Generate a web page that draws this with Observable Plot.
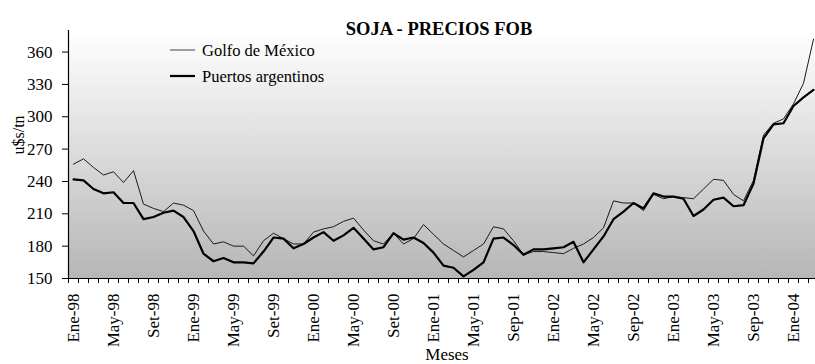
<!DOCTYPE html>
<html>
<head>
<meta charset="utf-8">
<script src="https://cdn.jsdelivr.net/npm/d3@7"></script>
<script src="https://cdn.jsdelivr.net/npm/@observablehq/plot@0.6"></script>
<style>
  html, body { margin: 0; padding: 0; background: #fff; }
  svg text { font-family: "Liberation Serif", serif; }
</style>
</head>
<body>
<div id="chart"></div>
<script>
// Soja: precios FOB mensuales (u$s/tn), enero 1998 a marzo 2004
const series = ["Golfo de México", "Puertos argentinos"];

const golfo = [
  256, 261, 253, 246, 249, 239, 250, 219, 215, 212, 220, 218,
  213, 194, 182, 184, 180, 180, 171, 185, 192, 187, 182, 182,
  193, 196, 198, 203, 206, 195, 185, 182, 192, 182, 187, 200,
  191, 182, 176, 170, 176, 182, 198, 196, 185, 172, 175, 175,
  174, 173, 178, 182, 188, 197, 222, 220, 220, 213, 228, 224,
  226, 225, 224, 233, 242, 241, 228, 222, 241, 283, 294, 298,
  312, 331, 372
];

const puertos = [
  242, 241, 233, 229, 230, 220, 220, 205, 207, 211, 213, 207,
  194, 173, 166, 169, 165, 165, 164, 175, 188, 187, 178, 182,
  188, 193, 185, 190, 197, 187, 177, 179, 192, 186, 188, 183,
  174, 162, 160, 152, 158, 165, 187, 188, 181, 172, 177, 177,
  178, 179, 184, 165, 177, 189, 205, 212, 220, 215, 229, 226,
  226, 224, 208, 214, 223, 225, 217, 218, 238, 280, 293, 294,
  310, 318, 325
];

// one label every four months
const etiquetas = [
  "Ene-98", "May-98", "Set-98", "Ene-99", "May-99", "Set-99",
  "Ene-00", "May-00", "Set-00", "Ene-01", "May-01", "Sep-01",
  "Ene-02", "May-02", "Sep-02", "Ene-03", "May-03", "Sep-03",
  "Ene-04"
];

const yTicks = [150, 180, 210, 240, 270, 300, 330, 360];

const datos = [
  ...golfo.map((v, i) => ({serie: series[0], mes: i, valor: v})),
  ...puertos.map((v, i) => ({serie: series[1], mes: i, valor: v}))
];

const fuente = "Liberation Serif";
const n = golfo.length;
const bordes = d3.range(n).map(i => i - 0.5);           // month boundaries
const posEtiquetas = etiquetas.map((_, k) => k * 4);    // label positions

// legend drawn inside the frame, top-left
function leyenda(index, scales, values, dim) {
  const g = d3.create("svg:g");
  const x0 = dim.marginLeft;
  const y0 = dim.marginTop;
  const items = [
    {t: series[0], w: 1, c: "#444", dy: 20},
    {t: series[1], w: 2.2, c: "#000", dy: 46}
  ];
  for (const it of items) {
    g.append("line")
      .attr("x1", x0 + 102).attr("x2", x0 + 127)
      .attr("y1", y0 + it.dy).attr("y2", y0 + it.dy)
      .attr("stroke", it.c).attr("stroke-width", it.w);
    g.append("text")
      .attr("x", x0 + 134).attr("y", y0 + it.dy)
      .attr("dy", "0.35em")
      .attr("text-anchor", "start")
      .attr("font-family", fuente)
      .attr("font-size", "16.5px")
      .attr("fill", "#000")
      .text(it.t);
  }
  return g.node();
}

const chart = Plot.plot({
  width: 815,
  height: 364,
  marginLeft: 68,
  marginRight: 0,
  marginTop: 30,
  marginBottom: 86,
  style: {fontFamily: fuente, fontSize: "17px", color: "#000", background: "#fff"},
  x: {type: "linear", domain: [-0.5, 74.2]},
  y: {domain: [150, 380]},
  marks: [
    Plot.frame({fill: "url(#fondo)", stroke: null}),
    Plot.line(datos.filter(d => d.serie === series[0]), {
      x: "mes", y: "valor", stroke: "#1a1a1a", strokeWidth: 1, strokeLinejoin: "round"
    }),
    Plot.line(datos.filter(d => d.serie === series[1]), {
      x: "mes", y: "valor", stroke: "#000", strokeWidth: 2.2, strokeLinejoin: "round"
    }),
    Plot.ruleY([150], {stroke: "#000", strokeWidth: 1}),
    Plot.ruleX([-0.5], {stroke: "#000", strokeWidth: 1.2}),
    Plot.axisY(yTicks, {
      tickSize: 6, tickPadding: 10, label: null, fontSize: 17, fontFamily: fuente
    }),
    Plot.axisX(bordes, {tickSize: 5, tickFormat: () => "", label: null}),
    Plot.axisX(posEtiquetas, {
      tickSize: 0, tickPadding: 15, tickRotate: -90, label: null,
      fontSize: 17, fontFamily: fuente,
      tickFormat: i => etiquetas[i / 4]
    }),
    Plot.text(["SOJA - PRECIOS FOB"], {
      frameAnchor: "top", dx: -3, dy: -9, fontWeight: "bold", fontSize: 18.5, fontFamily: fuente
    }),
    Plot.text(["u$s/tn"], {
      frameAnchor: "left", rotate: -90, dx: -50, fontSize: 16, fontFamily: fuente
    }),
    Plot.text(["Meses"], {
      frameAnchor: "bottom", dx: 5, dy: 81, fontSize: 17, fontFamily: fuente
    }),
    leyenda
  ]
});

chart.insertAdjacentHTML("afterbegin",
  `<defs><linearGradient id="fondo" x1="0" y1="0" x2="0" y2="1">
     <stop offset="0" stop-color="#ffffff"/>
     <stop offset="1" stop-color="#b6b6b6"/>
   </linearGradient></defs>`);

document.getElementById("chart").appendChild(chart);
</script>
</body>
</html>
